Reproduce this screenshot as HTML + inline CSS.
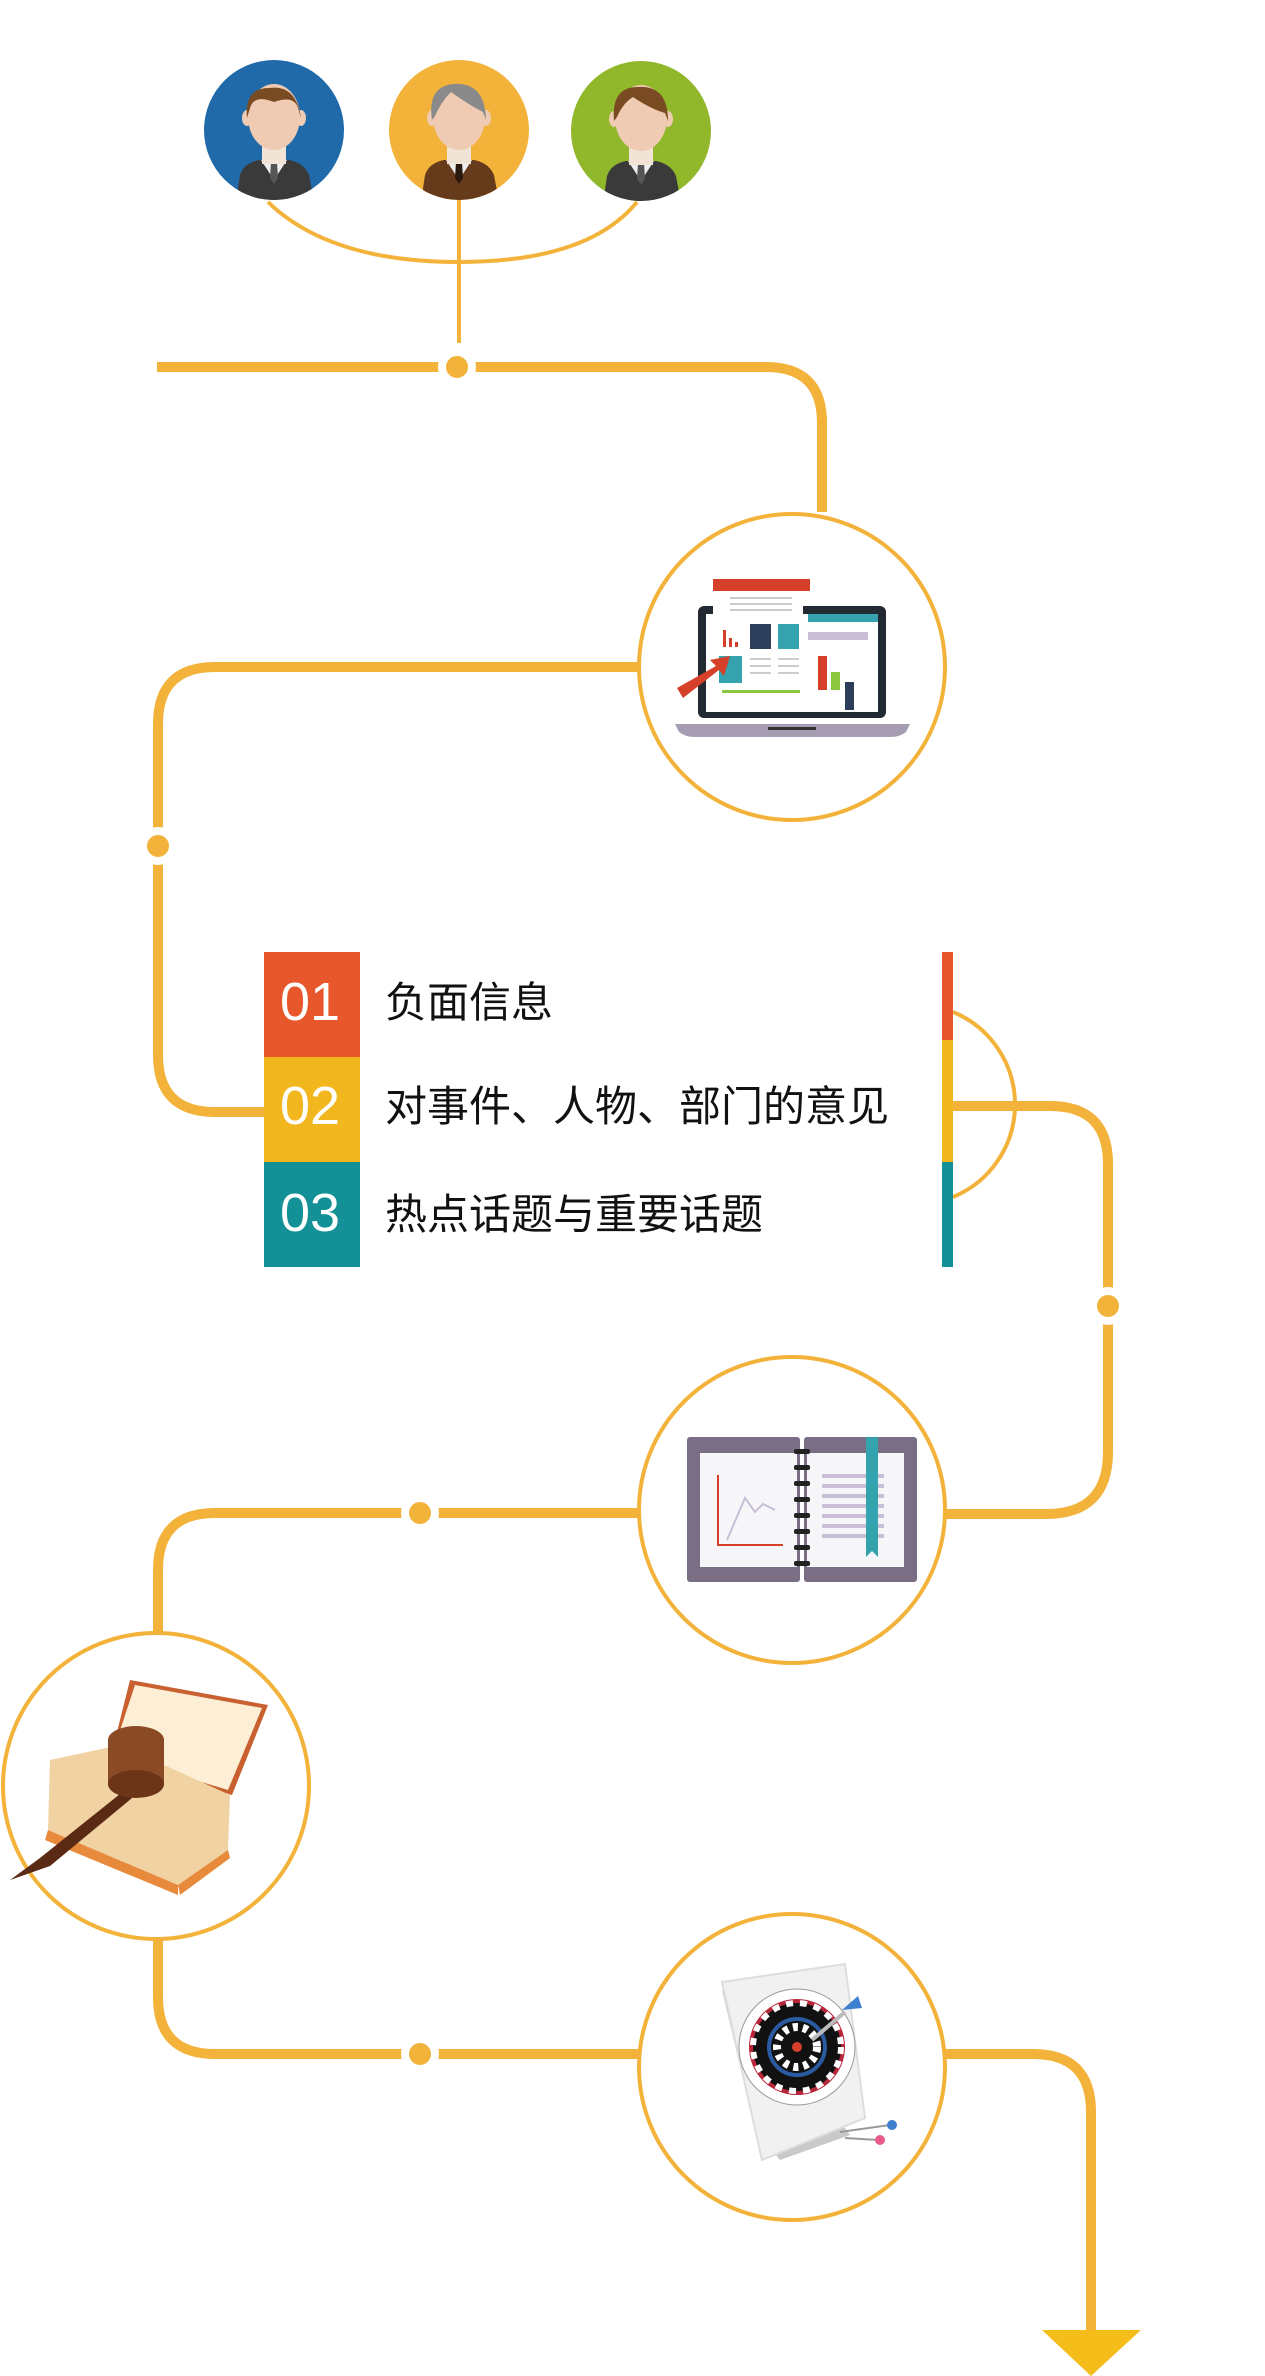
<!DOCTYPE html>
<html><head><meta charset="utf-8"><style>
html,body{margin:0;padding:0;background:#fff}
svg{display:block}
text{font-family:"Liberation Sans","Noto Sans CJK SC",sans-serif}
</style></head><body>
<svg width="1265" height="2376" viewBox="0 0 1265 2376" xmlns="http://www.w3.org/2000/svg">
<defs>
<clipPath id="cc"><circle cx="0" cy="0" r="70"/></clipPath>
<g id="person">
  <rect x="-12" y="10" width="24" height="24" fill="#f1e3d6"/>
  <ellipse cx="0" cy="-13" rx="26" ry="33" fill="#efcbb3"/>
  <ellipse cx="-27" cy="-12" rx="5" ry="8" fill="#efcbb3"/>
  <ellipse cx="27" cy="-12" rx="5" ry="8" fill="#efcbb3"/>
</g>
</defs>
<g transform="translate(274,130)">
 <circle r="70" fill="#216aaa"/>
 <g clip-path="url(#cc)">
  <path d="M-38,72 L-34,45 Q-30,33 -15,30 L15,30 Q30,33 35,45 L40,72Z" fill="#3a3a3a"/>
  <path d="M-13,30 L0,50 L13,30Z" fill="#eeeeee"/><path d="M-3,32 L3,32 L4,48 L0,54 L-4,48Z" fill="#555"/>
  <use href="#person"/>
  <path d="M-27,-12 Q-30,-42 -5,-42 Q22,-46 27,-12 L24,-22 Q20,-35 0,-28 Q-20,-36 -24,-22Z" fill="#7a4b22"/>
 </g>
</g>
<g transform="translate(459,130)">
 <circle r="70" fill="#f3b23a"/>
 <g clip-path="url(#cc)">
  <path d="M-38,72 L-34,45 Q-30,33 -15,30 L15,30 Q30,33 35,45 L40,72Z" fill="#653b1c"/>
  <path d="M-13,30 L0,50 L13,30Z" fill="#eeeeee"/><path d="M-3,32 L3,32 L4,48 L0,54 L-4,48Z" fill="#2a1a10"/>
  <use href="#person"/>
  <path d="M-27,-10 Q-32,-44 -5,-46 Q26,-48 27,-10 L24,-18 Q10,-25 -8,-38 Q-18,-28 -24,-14Z" fill="#8a8a8a"/>
 </g>
</g>
<g transform="translate(641,131)">
 <circle r="70" fill="#91b72a"/>
 <g clip-path="url(#cc)">
  <path d="M-38,72 L-34,45 Q-30,33 -15,30 L15,30 Q30,33 35,45 L40,72Z" fill="#3a3a3a"/>
  <path d="M-13,30 L0,50 L13,30Z" fill="#eeeeee"/><path d="M-3,32 L3,32 L4,48 L0,54 L-4,48Z" fill="#555"/>
  <use href="#person"/>
  <path d="M-27,-10 Q-30,-44 -3,-44 Q27,-46 27,-10 L24,-18 Q10,-22 -8,-34 Q-18,-28 -24,-14Z" fill="#7a4b22"/>
 </g>
</g>
<g fill="none" stroke="#f3b23a">
 <path d="M268,202 Q330,262 459,262 Q588,262 637,202" stroke-width="4"/>
 <path d="M459,200 V343" stroke-width="4"/>
 <g stroke-width="10">
  <path d="M157,367 H766 Q822,367 822,423 V512"/>
  <path d="M640,667 H215 Q158,667 158,724 V1055 Q158,1112 215,1112 H264"/>
  <path d="M953,1106 H1050 Q1108,1106 1108,1164 V1452 Q1108,1514 1046,1514 H945"/>
  <path d="M640,1513 H215 Q158,1513 158,1570 V1634"/>
  <path d="M158,1939 V1997 Q158,2054 215,2054 H640"/>
  <path d="M945,2054 H1033 Q1091,2054 1091,2112 V2334"/>
 </g>
 <path d="M953,1012 A100,100 0 0 1 953,1197" stroke-width="4"/>
</g>
<polygon points="1042,2330 1141,2330 1091,2376" fill="#f4bd1a"/>
<g fill="#f3b23a" stroke="#fff" stroke-width="8">
 <circle cx="457" cy="367" r="15"/><circle cx="158" cy="846" r="15"/><circle cx="1108" cy="1306" r="15"/>
 <circle cx="420" cy="1513" r="15"/><circle cx="420" cy="2054" r="15"/>
</g>
<g fill="#fff" stroke="#f3b23a" stroke-width="4">
 <circle cx="792" cy="667" r="153"/><circle cx="792" cy="1510" r="153"/>
 <circle cx="156" cy="1786" r="153"/><circle cx="792" cy="2067" r="153"/>
</g>
<g>
 <rect x="698" y="606" width="188" height="112" rx="6" fill="#232a33"/>
 <rect x="706" y="614" width="172" height="98" fill="#fff"/>
 <rect x="808" y="614" width="70" height="8" fill="#35a3ad"/>
 <rect x="808" y="632" width="60" height="8" fill="#c8bed6"/>
 <path d="M675,724 H910 L906,732 Q900,737 890,737 H695 Q685,737 679,732Z" fill="#a79db3"/>
 <rect x="768" y="727" width="48" height="3" fill="#333"/>
 <rect x="713" y="579" width="97" height="12" fill="#d6402a"/>
 <rect x="713" y="591" width="90" height="108" fill="#fff"/>
 <g fill="#ccc"><rect x="730" y="597" width="62" height="2"/><rect x="730" y="603" width="62" height="2"/><rect x="730" y="609" width="62" height="2"/></g>
 <rect x="723" y="630" width="3" height="17" fill="#d6402a"/><rect x="729" y="638" width="3" height="9" fill="#d6402a"/><rect x="735" y="642" width="3" height="5" fill="#d6402a"/>
 <rect x="750" y="624" width="21" height="25" fill="#2c3e5a"/><rect x="778" y="624" width="21" height="25" fill="#35a3ad"/>
 <rect x="719" y="656" width="23" height="27" fill="#35a3ad"/>
 <g fill="#ccc"><rect x="750" y="658" width="21" height="2"/><rect x="750" y="665" width="21" height="2"/><rect x="750" y="672" width="21" height="2"/><rect x="778" y="658" width="21" height="2"/><rect x="778" y="665" width="21" height="2"/><rect x="778" y="672" width="21" height="2"/></g>
 <rect x="722" y="690" width="78" height="3" fill="#8cc63f"/>
 <rect x="818" y="656" width="9" height="34" fill="#d6402a"/><rect x="831" y="672" width="9" height="18" fill="#8cc63f"/><rect x="845" y="682" width="9" height="28" fill="#2c3e5a"/>
 <path d="M677,688 L716,666 L710,660 L730,656 L724,676 L719,670 L683,698Z" fill="#d6402a"/>
</g>
<g>
 <rect x="687" y="1437" width="113" height="145" rx="3" fill="#7a6e85"/>
 <rect x="804" y="1437" width="113" height="145" rx="3" fill="#7a6e85"/>
 <rect x="700" y="1453" width="97" height="114" fill="#f6f6f8"/>
 <rect x="807" y="1453" width="97" height="114" fill="#f6f6f8"/>
 <path d="M718,1475 V1545 H783" fill="none" stroke="#d6402a" stroke-width="2"/>
 <path d="M727,1540 L745,1498 L755,1512 L763,1504 L775,1510" fill="none" stroke="#c8bed6" stroke-width="2"/>
 <g fill="#c8bed6"><rect x="822" y="1474" width="62" height="4"/><rect x="822" y="1484" width="62" height="4"/><rect x="822" y="1494" width="62" height="4"/><rect x="822" y="1504" width="62" height="4"/><rect x="822" y="1514" width="62" height="4"/><rect x="822" y="1524" width="62" height="4"/><rect x="822" y="1534" width="62" height="4"/></g>
 <path d="M866,1437 H878 V1557 L872,1551 L866,1557Z" fill="#35a3ad"/>
 <g fill="#222"><rect x="794" y="1449" width="16" height="5" rx="2"/><rect x="794" y="1465" width="16" height="5" rx="2"/><rect x="794" y="1481" width="16" height="5" rx="2"/><rect x="794" y="1497" width="16" height="5" rx="2"/><rect x="794" y="1513" width="16" height="5" rx="2"/><rect x="794" y="1529" width="16" height="5" rx="2"/><rect x="794" y="1545" width="16" height="5" rx="2"/><rect x="794" y="1561" width="16" height="5" rx="2"/></g>
</g>
<g>
 <path d="M130,1680 L268,1705 L232,1795 L110,1760Z" fill="#c8602f"/>
 <path d="M135,1685 L262,1708 L228,1790 L112,1755Z" fill="#fcefd6"/>
 <path d="M50,1760 L120,1745 L230,1795 L228,1850 L178,1885 L48,1830Z" fill="#f1d2a3"/>
 <path d="M48,1830 L178,1885 L178,1895 L45,1840Z" fill="#e88a3c"/>
 <path d="M178,1885 L228,1850 L230,1858 L180,1895Z" fill="#e88a3c"/>
 <path d="M10,1880 L40,1858 L125,1790 L132,1798 L50,1866Z" fill="#5a2a14"/>
 <ellipse cx="136" cy="1740" rx="28" ry="14" fill="#8a4a24"/>
 <rect x="108" y="1740" width="56" height="44" fill="#8a4a24"/>
 <ellipse cx="136" cy="1784" rx="28" ry="14" fill="#6d3518"/>
</g>
<g>
 <path d="M722,1990 L755,2130 L780,2160 L850,2135 L810,2080Z" fill="#c9c9c9"/>
 <path d="M722,1982 L845,1964 L865,2118 L762,2160Z" fill="#f1f1f1" stroke="#ddd" stroke-width="2"/>
 <circle cx="797" cy="2047" r="58" fill="#fff" stroke="#999"/>
 <circle cx="797" cy="2047" r="48" fill="#b8263a"/>
 <circle cx="797" cy="2047" r="44" fill="#111"/>
 <circle cx="797" cy="2047" r="44" fill="none" stroke="#fff" stroke-width="6" stroke-dasharray="7 7"/>
 <circle cx="797" cy="2047" r="28" fill="none" stroke="#2a5aa0" stroke-width="4"/>
 <circle cx="797" cy="2047" r="20" fill="none" stroke="#fff" stroke-width="8" stroke-dasharray="5 5"/>
 <circle cx="797" cy="2047" r="5" fill="#d6402a"/>
 <path d="M812,2040 L845,2012" stroke="#bbb" stroke-width="4"/>
 <path d="M842,2010 L858,1996 L862,2008Z" fill="#3f7fd0"/>
 <path d="M840,2132 L890,2125" stroke="#999" stroke-width="2"/><path d="M845,2138 L878,2140" stroke="#999" stroke-width="2"/>
 <circle cx="892" cy="2125" r="5" fill="#3f7fd0"/><circle cx="880" cy="2140" r="5" fill="#e85a8a"/>
</g>
<rect x="264" y="952" width="96" height="105" fill="#e8572c"/>
<rect x="264" y="1057" width="96" height="105" fill="#f2b71f"/>
<rect x="264" y="1162" width="96" height="105" fill="#139196"/>
<rect x="942" y="952" width="11" height="88" fill="#e8572c"/>
<rect x="942" y="1040" width="11" height="122" fill="#f2b71f"/>
<rect x="942" y="1162" width="11" height="105" fill="#139196"/>
<g fill="#fff" font-size="54"><text x="280" y="1020">01</text><text x="280" y="1124">02</text><text x="280" y="1231">03</text></g>
<g fill="#111" font-size="42"><text x="385" y="1017">负面信息</text><text x="385" y="1121">对事件、人物、部门的意见</text><text x="385" y="1229">热点话题与重要话题</text></g>
</svg>
</body></html>
